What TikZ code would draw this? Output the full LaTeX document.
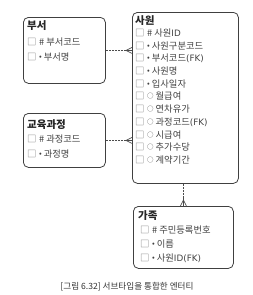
\documentclass[tikz,border=0pt]{standalone}
\usepackage{fontspec}
\setmainfont{Noto Sans CJK KR}
\newfontfamily\lat{DejaVu Sans}
\usetikzlibrary{calc}
\newcommand{\cbx}{{\color{black!55}□}\hspace{0.5pt}}
\newcommand{\opt}{\raisebox{1pt}{\fontsize{6.5}{7}\selectfont ○}}
\newcommand{\mnd}{\raisebox{1pt}{\fontsize{8}{8}\selectfont •}}
\newcommand{\la}[1]{{\lat\fontsize{8.8}{10}\selectfont #1}}
\tikzset{
  ent/.style={draw=black!75, line width=0.8pt, rounded corners=5pt, anchor=north west, inner sep=0pt},
  ttl/.style={anchor=west, inner sep=0pt, font=\fontsize{10.5}{12}\selectfont\bfseries, text=black!85},
  itm/.style={anchor=west, inner sep=0pt, font=\fontsize{9.3}{11}\selectfont, text=black!75},
  rel/.style={draw=black!70, line width=0.7pt},
  reld/.style={rel, dash pattern=on 2pt off 1pt},
}
\begin{document}
\begin{tikzpicture}[x=1pt,y=-1pt]
\useasboundingbox (0,0) rectangle (253,295);
% boxes
\node[ent, minimum width=82pt, minimum height=66pt] (busu) at (23,17) {};
\node[ent, minimum width=82pt, minimum height=54pt] (edu) at (23,113) {};
\node[ent, minimum width=106pt, minimum height=171pt] (emp) at (132,12) {};
\node[ent, minimum width=100pt, minimum height=62pt] (fam) at (133,206) {};
% 부서
\node[ttl] (busut) at (27,26) {부서};
\node[itm] (busu1) at (27,42) {\cbx{} \# 부서코드};
\node[itm] (busu2) at (27,57) {\cbx{} \mnd{} 부서명};
% 교육과정
\node[ttl] (edut) at (27,125) {교육과정};
\node[itm] (edu1) at (27,139) {\cbx{} \# 과정코드};
\node[itm] (edu2) at (27,154) {\cbx{} \mnd{} 과정명};
% 사원
\node[ttl] (empt) at (135,21) {사원};
\node[itm] (emp1) at (135,33.0) {\cbx{} \# 사원\la{ID}};
\node[itm] (emp2) at (135,45.7) {\cbx{} \mnd{} 사원구분코드};
\node[itm] (emp3) at (135,58.4) {\cbx{} \mnd{} 부서코드\la{(FK)}};
\node[itm] (emp4) at (135,71.1) {\cbx{} \mnd{} 사원명};
\node[itm] (emp5) at (135,83.8) {\cbx{} \mnd{} 입사일자};
\node[itm] (emp6) at (135,96.5) {\cbx{} \opt{} 월급여};
\node[itm] (emp7) at (135,109.2) {\cbx{} \opt{} 연차유가};
\node[itm] (emp8) at (135,121.9) {\cbx{} \opt{} 과정코드\la{(FK)}};
\node[itm] (emp9) at (135,134.6) {\cbx{} \opt{} 시급여};
\node[itm] (emp10) at (135,147.3) {\cbx{} \opt{} 추가수당};
\node[itm] (emp11) at (135,160.0) {\cbx{} \opt{} 계약기간};
% 가족
\node[ttl] (famt) at (138,216) {가족};
\node[itm] (fam1) at (140,230) {\cbx{} \# 주민등록번호};
\node[itm] (fam2) at (140,244) {\cbx{} \mnd{} 이름};
\node[itm] (fam3) at (140,258) {\cbx{} \mnd{} 사원\la{ID(FK)}};
% caption
\node[inner sep=0pt, font=\fontsize{8.6}{10}\selectfont, text=black!80] (cap) at (127,287) {[그림 6.32] 서브타입을 통합한 엔터티};
% connectors
\coordinate (e1) at (busu.east -| emp.west);
\coordinate (e2) at (edu.east -| emp.west);
\coordinate (s3) at (emp.south -| fam.north);
\draw[reld] (busu.east) -- ($(e1)+(-7,0)$);
\draw[rel] ($(e1)+(-7,0)$) -- (e1);
\draw[rel] ($(e1)+(-6,0)$) -- ($(e1)+(0,-3)$) ($(e1)+(-6,0)$) -- ($(e1)+(0,3)$);
\draw[reld] (edu.east) -- ($(e2)+(-7,0)$);
\draw[rel] ($(e2)+(-7,0)$) -- (e2);
\draw[rel] ($(e2)+(-6,0)$) -- ($(e2)+(0,-3)$) ($(e2)+(-6,0)$) -- ($(e2)+(0,3)$);
\draw[reld] (s3) -- ($(fam.north)+(0,-8)$);
\draw[rel] ($(fam.north)+(0,-8)$) -- (fam.north);
\draw[rel] ($(fam.north)+(0,-6)$) -- ($(fam.north)+(-3,0)$) ($(fam.north)+(0,-6)$) -- ($(fam.north)+(3,0)$);
\end{tikzpicture}
\end{document}
